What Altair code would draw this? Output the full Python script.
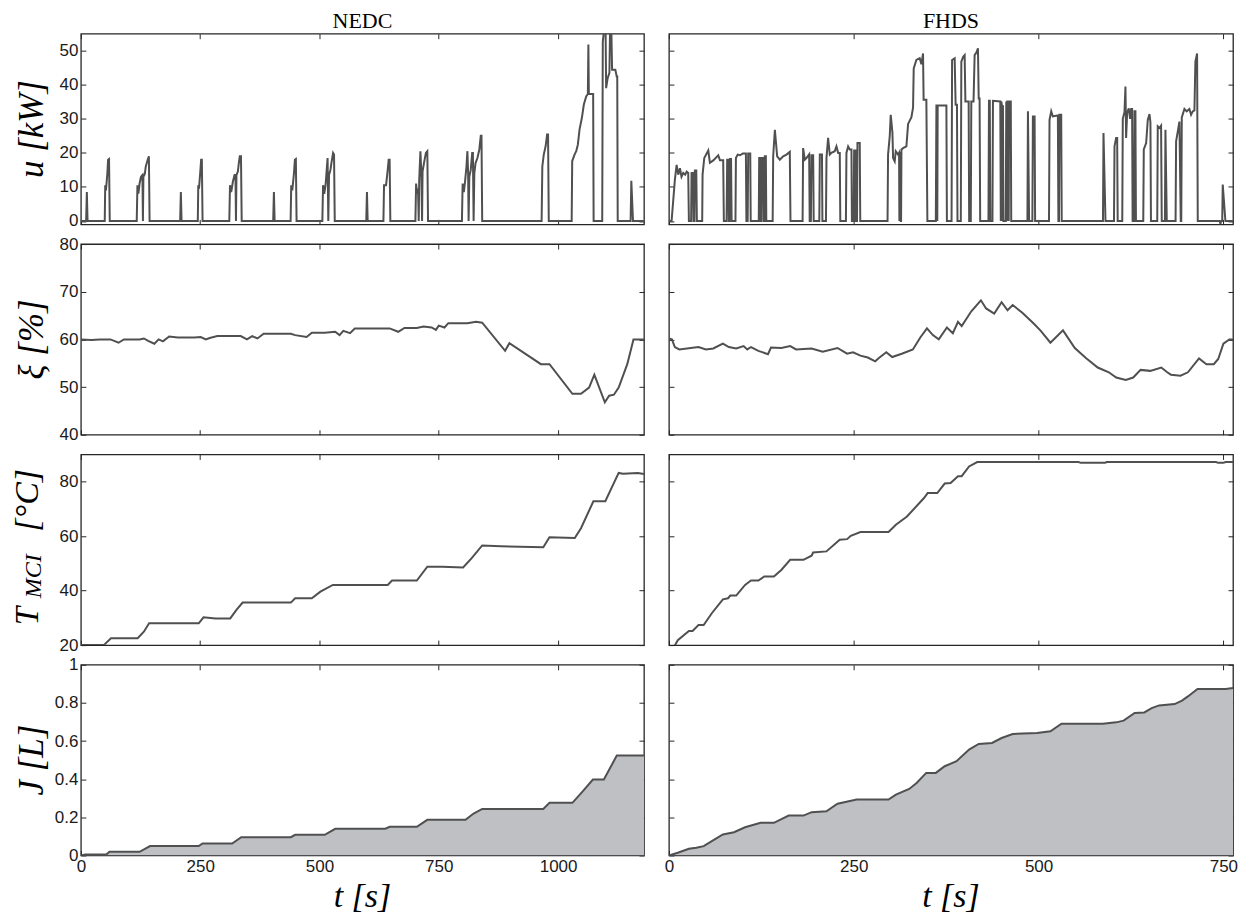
import altair as alt
import pandas as pd

# ---------------- data (t [s], value) ----------------
nedc_u = [
    (0, 0), (11, 0), (12.5, 8.5), (14, 0),
    (50, 0), (51, 10.5), (52.5, 9), (55.5, 14), (57, 18), (59, 18.2), (60.5, 0),
    (117, 0), (118.5, 10.5), (120.5, 8), (123, 11), (126, 13), (129, 13.5), (130, 0), (131, 13),
    (134, 13.8), (136, 16), (140, 18), (142.5, 19), (144, 0),
    (208, 0), (209.5, 8.5), (211, 0),
    (245, 0), (246, 10.5), (247.5, 9.5), (250, 14), (252, 18), (253.5, 18), (255, 0),
    (311, 0), (312.5, 10.5), (315, 8.5), (318.5, 11.5), (322, 13.5), (324, 13.5), (325, 0), (326, 13.5),
    (329, 14.5), (331, 17), (333, 19), (335.5, 19), (337, 0),
    (403, 0), (404.5, 8.5), (406, 0),
    (439.5, 0), (440.8, 10.5), (443, 9), (446.5, 14), (448.5, 18), (450.5, 18.2), (452, 0),
    (506, 0), (507.5, 10.5), (510, 8), (513, 11), (517, 18.5), (518.5, 0), (520, 13.5), (523, 15),
    (525, 17), (528.5, 20), (530.5, 19.5), (532, 0),
    (598, 0), (599.5, 8.5), (601, 0),
    (634, 0), (635.3, 10.5), (639.5, 10.5), (643, 15), (645, 18), (647, 18), (648.5, 0),
    (701, 0), (702.5, 11), (704.5, 8), (706.5, 9.5), (708, 0), (709, 12), (711.5, 20.5), (713.5, 14),
    (715, 0), (716, 14.5), (719, 17), (723, 20), (726, 20.5), (727.5, 0),
    (798.5, 0), (800, 11), (802.5, 8.5), (805, 11.5), (808, 16), (810, 20.5), (811.5, 14), (812.5, 0),
    (814, 13), (817, 15), (820, 20), (821.5, 20), (823, 0), (824.5, 14), (827, 17), (831, 18.5),
    (835, 21), (838, 25), (839.5, 25), (841, 0),
    (965.5, 0), (967, 16), (970, 19.5), (974, 22), (977, 25.4), (979, 25.4), (980.5, 0),
    (1028.5, 0), (1029.6, 17.6), (1034.5, 19.5), (1038, 20.5), (1041.4, 22.4), (1045, 26.9),
    (1049.9, 30.3), (1054, 34.2), (1058.9, 36.6), (1062.4, 37.3), (1063.5, 51.8), (1064.5, 37.3),
    (1073.5, 37.3), (1074.5, 0),
    (1092.5, 0), (1093.7, 52.6), (1097, 57), (1099.5, 57), (1100.7, 39), (1104, 42), (1107.6, 43.5),
    (1109, 57), (1111.5, 57), (1113.2, 44.4), (1120, 44.4), (1122.9, 42.4), (1124, 42.4), (1125, 0),
    (1152, 0), (1153.5, 11.8), (1157, 0), (1180, 0),
]

fhds_u = [
    (0, 0), (3.6, 0), (8, 12), (10.4, 16.5), (12.6, 13.6), (14.9, 15.5), (17, 13), (19.4, 14.1),
    (22, 13.6), (24, 14.5), (26.1, 14.1), (27, 0), (30, 0), (30.6, 14.1), (32.5, 14.1), (33.2, 0),
    (34.5, 0), (35.1, 14.8), (37, 14.8), (37.8, 0),
    (45, 0), (45.5, 13.6), (47.8, 18.5), (53.2, 20.7), (55.4, 17.1), (60, 17.8), (66.7, 19.3),
    (69, 17.8), (73.4, 17.8), (74.3, 0),
    (78, 0), (78.8, 18), (80.2, 18), (81, 0), (82, 0), (82.6, 18.2), (84, 18.2), (84.8, 0),
    (90, 0), (90.6, 18.5), (93, 19.5), (96, 19.3), (100, 19.8), (104.1, 19.8), (104.8, 0),
    (106.5, 0), (107.2, 19.8), (110, 19.8), (110.6, 0),
    (121.5, 0), (122.1, 18.5), (123.6, 18.5), (124.2, 0), (124.8, 0), (125.4, 18.5), (127.3, 18.5),
    (127.9, 0), (129, 0), (129.7, 19), (131.1, 19), (131.7, 0),
    (140.3, 0), (141, 19), (143.3, 26.8), (146.4, 19), (150, 18), (154.5, 19), (159, 19.5),
    (163.5, 20.3), (164.4, 0),
    (180.8, 0), (181.5, 21.4), (183.8, 18), (186, 18.5), (189.7, 19.6), (190.4, 0), (192, 0),
    (192.8, 19.3), (195.1, 19.3), (195.8, 0),
    (203.4, 0), (204.1, 19.5), (207, 19.5), (207.6, 0),
    (212.4, 0), (213.1, 18.5), (215.3, 24.4), (217.6, 19.5), (219.8, 20), (224.3, 20.5),
    (226.6, 21.9), (228.9, 20), (231.1, 20), (231.8, 0),
    (239.4, 0), (240.1, 20), (242.4, 21.9), (244.6, 21), (246.9, 21), (247.5, 0), (249.8, 0),
    (250.5, 20.7), (251.4, 20.7), (251.8, 0), (252, 0), (252.3, 20.7), (253.6, 20.7), (254, 0),
    (254.4, 0), (255, 22.9), (258.1, 22.9), (258.8, 0),
    (295.7, 0), (296.4, 19.5), (298.7, 25), (300, 31.2), (302.3, 26), (303.2, 18.5), (305.4, 17.5),
    (306.8, 20.5), (310, 19.5), (311.3, 20), (311.7, 0), (312.2, 20), (313.1, 20), (313.5, 0),
    (314, 0), (314.5, 21), (316.7, 21.4), (321.2, 21.9), (323.5, 28.5), (328, 30.5), (330.2, 33.3),
    (331.1, 44.8), (334.7, 47.3), (339.2, 47.8), (341.5, 46), (343.7, 49.2), (344.5, 35.6),
    (348.2, 35.6), (349.6, 0),
    (361, 0), (361.8, 33.9), (362.5, 33.9), (363, 0), (363.5, 33.9), (375.3, 33.9), (376, 0),
    (382.3, 0), (383, 47.3), (386.5, 47.8), (387.8, 34.1), (389.6, 34.1), (390.3, 0),
    (394.8, 0), (395.5, 46.8), (398, 48.2), (400, 48.7), (401, 35.1), (405.4, 35.1), (406.1, 0),
    (408.3, 0), (409, 35.1), (412, 35.1), (413.5, 48.7), (416, 49.5), (418, 50.7), (419, 36),
    (420.2, 36), (421, 0),
    (432.2, 0), (432.9, 35.3), (434, 35.3), (434.7, 0), (437.6, 0), (438.3, 35.3), (448.2, 35.1),
    (448.9, 0), (449.5, 35.1), (450.4, 34), (451, 0), (451.8, 34), (452.4, 0),
    (455.6, 0), (456.3, 35.1), (457, 0), (457.6, 35.1), (459, 35.1), (459.6, 0), (460.1, 35.1),
    (462.4, 35.1), (463, 0),
    (484.9, 0), (485.6, 32.2), (487.2, 0), (491.6, 0), (492.3, 30.7), (494.6, 30.7), (495.3, 0),
    (514.1, 0), (514.8, 29.7), (517.1, 32.2), (519.3, 30.7), (523.8, 30.9), (526.1, 31), (526.8, 0),
    (527.6, 0), (528.3, 31.2), (530.6, 31.2), (531.3, 0),
    (587.1, 0), (587.8, 25.8), (590.5, 0),
    (602, 0), (602.7, 21.9), (604.9, 24.4), (606.3, 24.4), (607, 0),
    (613.2, 0), (613.9, 30), (616.2, 32), (617.5, 39.5), (618.4, 24.4), (619.8, 31.7), (622, 33.1),
    (623.8, 30), (625.2, 32.9), (626.5, 32.9), (627.2, 0), (629, 0), (629.7, 32.2), (631, 32.2),
    (631.7, 0),
    (641.6, 0), (642.3, 21), (645.5, 22.9), (647.7, 29.7), (650, 31.4), (651.3, 29), (652, 0),
    (660.5, 0), (661.2, 27.8), (663.5, 27.3), (665.7, 28), (666.6, 0), (670.9, 0), (671.6, 26.8),
    (673.4, 0),
    (685.3, 0), (686, 23.4), (688.3, 26.3), (690.5, 29.2), (692.3, 0), (693, 0), (693.7, 30.4),
    (697.3, 32.9), (700.4, 32.2), (704, 32.9), (706.3, 31.2), (708.5, 32.2), (710.8, 32.5),
    (712.1, 46.8), (714.4, 49.2), (715.3, 0),
    (744.6, 0), (746, -0.8), (747, 0), (748.4, 0), (749.1, 10.7), (752.7, 0), (763, 0),
]

nedc_soc = [
    (0, 60), (22, 59.9), (40, 60), (62, 60), (79, 59.3), (90, 60), (123, 60), (132, 60.2),
    (141, 59.7), (154, 59.1), (163, 60), (172, 59.6), (185, 60.6), (203, 60.4), (238, 60.4),
    (251, 60.5), (262, 60), (270, 60.3), (286, 60.7), (335, 60.7), (348, 60), (359, 60.7),
    (370, 60.2), (383, 61.2), (440, 61.2), (449, 60.9), (473, 60.5), (484, 61.4), (511, 61.4),
    (533, 61.6), (542, 60.9), (550, 61.8), (564, 61.3), (574, 62.3), (625, 62.3), (647, 62.3),
    (665, 61.6), (678, 62.4), (704, 62.4), (718, 62.7), (735, 62.5), (744, 62), (750, 62.9),
    (762, 62.5), (770, 63.4), (810, 63.4), (828, 63.7), (841, 63.5), (889, 57.6), (898, 59.2),
    (964, 54.8), (982, 54.8), (1030, 48.6), (1048, 48.6), (1065, 49.9), (1076, 52.6),
    (1098, 46.8), (1107, 48.2), (1117, 48.4), (1127, 49.9), (1145, 54.8), (1158, 60), (1180, 60),
]

fhds_soc = [
    (0, 60.2), (4, 60), (8, 58.4), (14, 57.9), (40, 58.4), (50, 57.9), (60, 58.1), (73, 59.1),
    (81, 58.4), (91, 58.1), (101, 58.6), (106, 57.9), (111, 58.4), (121, 57.6), (134, 56.9),
    (138, 58.3), (152, 58.2), (164, 58.6), (172, 57.9), (193, 58.1), (208, 57.4), (228, 58.2),
    (241, 57), (249, 57.3), (259, 56.6), (269, 56.2), (279, 55.4), (284, 56.1), (294, 57.3),
    (302, 56.3), (315, 57), (330, 57.9), (340, 60.4), (349, 62.3), (357, 60.9), (365, 60),
    (376, 62.5), (384, 61.3), (391, 63.7), (396, 62.8), (409, 65.9), (422, 68.2), (429, 66.5),
    (440, 65.4), (450, 67.8), (458, 66.1), (465, 67.2), (478, 65.6), (493, 63.4), (503, 61.8),
    (516, 59.3), (533, 61.9), (549, 58.2), (564, 56.1), (580, 54.1), (595, 53.1), (605, 52),
    (618, 51.5), (628, 52), (638, 53.6), (651, 53.4), (666, 54.1), (674, 53.1), (679, 52.6),
    (692, 52.4), (702, 53.1), (717, 56), (727, 54.8), (737, 54.8), (743, 55.9), (750, 59.1),
    (758, 60), (763, 60),
]

nedc_temp = [
    (0, 20), (48, 20), (63, 22.5), (119, 22.5), (132, 24.9), (143, 28), (247, 28), (257, 30.2),
    (282, 29.8), (313, 29.8), (326, 32.9), (339, 35.6), (440, 35.6), (449, 37.2), (484, 37.2),
    (502, 39.6), (528, 42.1), (643, 42.1), (652, 43.7), (704, 43.7), (726, 48.8), (757, 48.8),
    (801, 48.5), (819, 51.9), (841, 56.6), (880, 56.3), (969, 55.9), (982, 59.6), (1035, 59.3),
    (1048, 62.9), (1074, 72.8), (1099, 72.8), (1127, 83.2), (1136, 82.9), (1167, 83.2),
    (1180, 82.8),
]

fhds_temp = [
    (0, 19.4), (7, 19.4), (12, 21.8), (27, 25.2), (32, 25.2), (40, 27.4), (47, 27.4), (58, 31.7),
    (73, 36.8), (80, 37.2), (83, 38.2), (91, 38.2), (103, 42.1), (111, 43.7), (121, 43.7),
    (129, 45.2), (142, 45.2), (152, 47.6), (164, 51.3), (182, 51.3), (193, 52.8), (195, 54),
    (213, 54.4), (231, 58.7), (241, 58.9), (246, 60.1), (259, 61.5), (297, 61.5), (307, 64.2),
    (322, 67.2), (345, 74), (350, 75.8), (363, 75.8), (373, 79.3), (381, 79.5), (391, 82),
    (396, 82), (406, 85.6), (417, 87.2), (554, 87.2), (557, 86.9), (590, 86.9), (592, 87.2),
    (740, 87.2), (743, 86.9), (750, 86.9), (753, 87.2), (763, 87.2),
]

nedc_fuel = [
    (0, 0), (9, 0.005), (53, 0.005), (60, 0.019), (123, 0.019), (145, 0.049), (247, 0.049),
    (255, 0.063), (317, 0.063), (336, 0.096), (440, 0.096), (449, 0.108), (511, 0.108),
    (533, 0.14), (638, 0.14), (647, 0.15), (704, 0.15), (726, 0.187), (806, 0.187), (823, 0.22),
    (841, 0.244), (969, 0.244), (982, 0.276), (1030, 0.276), (1052, 0.337), (1073, 0.398),
    (1096, 0.398), (1123, 0.524), (1180, 0.524),
]

fhds_fuel = [
    (0, 0), (12, 0.014), (27, 0.035), (37, 0.04), (47, 0.049), (58, 0.075), (73, 0.11),
    (88, 0.122), (103, 0.148), (124, 0.171), (142, 0.171), (162, 0.209), (182, 0.209),
    (193, 0.227), (213, 0.232), (228, 0.271), (254, 0.293), (297, 0.293), (307, 0.319),
    (325, 0.349), (335, 0.38), (348, 0.433), (361, 0.433), (373, 0.468), (389, 0.494),
    (406, 0.555), (419, 0.585), (437, 0.59), (450, 0.616), (465, 0.637), (498, 0.642),
    (516, 0.651), (531, 0.691), (587, 0.691), (605, 0.698), (615, 0.707), (630, 0.747),
    (643, 0.75), (653, 0.773), (663, 0.787), (684, 0.794), (694, 0.812), (702, 0.834),
    (715, 0.873), (753, 0.873), (763, 0.878),
]

nedc_xdomain = [0, 1180]
fhds_xdomain = [0, 763]
nedc_xticks = [0, 250, 500, 750, 1000]
fhds_xticks = [0, 250, 500, 750]

u_domain, u_ticks = [-1, 55], [0, 10, 20, 30, 40, 50]
soc_domain, soc_ticks = [40, 80], [40, 50, 60, 70, 80]
temp_domain, temp_ticks = [20, 90], [20, 40, 60, 80]
fuel_domain, fuel_ticks = [0, 1], [0, 0.2, 0.4, 0.6, 0.8, 1]

# ---------------- style ----------------
W_L, W_R, H = 564, 565, 191
LINE = "#505050"
AREA = "#bfc0c4"
BOX = "#262626"
SANS = "Liberation Sans"
SERIF = "Liberation Serif"


def txt(s, x, y, size, angle=0, style="italic"):
    return alt.Chart(pd.DataFrame({"s": [s]})).mark_text(
        font=SERIF, fontSize=size, fontStyle=style, angle=angle,
        align="center", baseline="alphabetic", color="black"
    ).encode(text="s:N", x=alt.value(x), y=alt.value(y))


def panel(pts, xdom, xticks, ydom, yticks, yfmt, width, xlabels, ylabels, area=False, extra=()):
    df = pd.DataFrame(pts, columns=["t", "v"])
    df["i"] = range(len(df))
    xs = alt.Scale(domain=xdom, nice=False, zero=False)
    ys = alt.Scale(domain=ydom, nice=False, zero=False)
    common = dict(grid=False, domain=False, ticks=True, tickSize=5, offset=-5,
                  tickColor=BOX, tickWidth=1, tickOpacity=1, labelFont=SANS, labelFontSize=17,
                  labelColor="#1a1a1a", title=None, labelPadding=3,
                  labelFlush=False, labelOverlap=False)
    xa = alt.Axis(orient="bottom", values=xticks, labels=xlabels, format="d", **common)
    ya = alt.Axis(orient="left", values=yticks, labels=ylabels, format=yfmt, **common)
    if area:
        base = alt.Chart(df).mark_area(
            color=AREA, opacity=1, clip=True,
            line=alt.OverlayMarkDef(color=LINE, strokeWidth=2))
        main = base.encode(x=alt.X("t:Q", scale=xs, axis=xa),
                           y=alt.Y("v:Q", scale=ys, axis=ya, stack=None))
    else:
        base = alt.Chart(df).mark_line(color=LINE, strokeWidth=2, clip=True)
        main = base.encode(x=alt.X("t:Q", scale=xs, axis=xa),
                           y=alt.Y("v:Q", scale=ys, axis=ya), order="i:Q")
    mirror = alt.Chart(df).mark_line(opacity=0).encode(
        x=alt.X("t:Q", scale=xs, axis=alt.Axis(orient="top", values=xticks, **{**common, "labels": False})),
        y=alt.Y("v:Q", scale=ys, axis=alt.Axis(orient="right", values=yticks, **{**common, "labels": False})),
    )
    return alt.layer(main, mirror, *extra).resolve_axis(
        x="independent", y="independent").properties(width=width, height=H)


TX = -38
YS = 35
panels = [
    panel(nedc_u, nedc_xdomain, nedc_xticks, u_domain, u_ticks, "d", W_L, False, True,
          extra=[txt("u [kW]", TX, H / 2, YS, angle=270), txt("NEDC", W_L / 2, -6, 22, style="normal")]),
    panel(fhds_u, fhds_xdomain, fhds_xticks, u_domain, u_ticks, "d", W_R, False, False,
          extra=[txt("FHDS", W_R / 2, -6, 22, style="normal")]),
    panel(nedc_soc, nedc_xdomain, nedc_xticks, soc_domain, soc_ticks, "d", W_L, False, True,
          extra=[txt("ξ [%]", TX, H / 2, YS, angle=270)]),
    panel(fhds_soc, fhds_xdomain, fhds_xticks, soc_domain, soc_ticks, "d", W_R, False, False),
    panel(nedc_temp, nedc_xdomain, nedc_xticks, temp_domain, temp_ticks, "d", W_L, False, True,
          extra=[txt("T", -43, 162, 33, angle=270), txt("MCI", -40, 122, 24, angle=270),
                 txt("[°C]", -43, 46, 34, angle=270)]),
    panel(fhds_temp, fhds_xdomain, fhds_xticks, temp_domain, temp_ticks, "d", W_R, False, False),
    panel(nedc_fuel, nedc_xdomain, nedc_xticks, fuel_domain, fuel_ticks, ".1~f", W_L, True, True, area=True,
          extra=[txt("J [L]", TX, H / 2, YS, angle=270), txt("t [s]", W_L / 2, H + 52, 34)]),
    panel(fhds_fuel, fhds_xdomain, fhds_xticks, fuel_domain, fuel_ticks, ".1~f", W_R, True, False, area=True,
          extra=[txt("t [s]", W_R / 2, H + 52, 34)]),
]

chart = alt.concat(*panels, columns=2, spacing={"row": 19.7, "column": 25}, bounds="flush").properties(
    padding={"left": 2, "top": 0, "right": 5, "bottom": 3}, background="white"
).configure_view(stroke=BOX, strokeWidth=1.3)

chart.save("out.html", embed_options={"renderer": "svg", "actions": False})
